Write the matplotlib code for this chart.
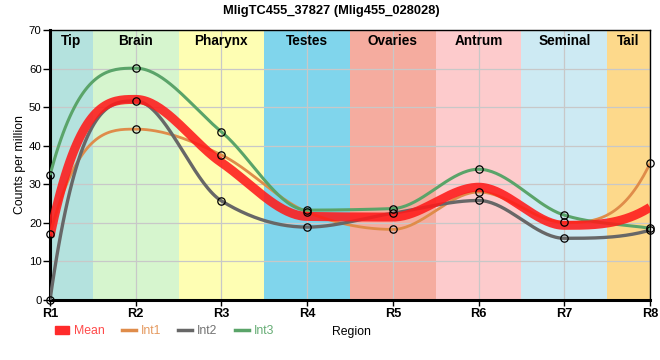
import numpy as np
import matplotlib
matplotlib.use("Agg")
import matplotlib.pyplot as plt
from matplotlib.lines import Line2D
from matplotlib.patches import Patch

plt.rcParams['font.family'] = ['Liberation Sans', 'DejaVu Sans']

# data
regions = ["R1", "R2", "R3", "R4", "R5", "R6", "R7", "R8"]
int1 = [17.1, 44.3, 37.6, 22.8, 18.3, 28.0, 20.1, 35.4]
int2 = [0.0, 51.6, 25.7, 18.9, 22.5, 25.8, 16.0, 18.1]
int3 = [32.4, 60.1, 43.6, 23.3, 23.7, 33.9, 22.0, 18.6]
mean = list(np.mean([int1, int2, int3], axis=0))

band_names = ["Tip", "Brain", "Pharynx", "Testes", "Ovaries", "Antrum", "Seminal", "Tail"]
band_colors = ["#b4e2de", "#d6f5ce", "#fefeb3", "#80d5ec", "#f5ac9f", "#fdcbcc", "#cdeaf3", "#fdd98b"]


def smooth_curve(x, y, n=40):
    # monotone cubic hermite, ends bent harder like the original chart
    x = np.asarray(x, float)
    y = np.asarray(y, float)
    h = np.diff(x)
    s = np.diff(y) / h
    m = np.zeros(len(x))
    for i in range(1, len(x) - 1):
        p = (s[i - 1] * h[i] + s[i] * h[i - 1]) / (h[i - 1] + h[i])
        m[i] = (np.sign(s[i - 1]) + np.sign(s[i])) * min(abs(s[i - 1]), abs(s[i]), 0.5 * abs(p))
    m[0] = 3 * s[0] - m[1]
    m[-1] = 3 * s[-1] - m[-2]
    xs, ys = [], []
    for i in range(len(x) - 1):
        t = np.linspace(0, 1, n)
        h00 = 2 * t**3 - 3 * t**2 + 1
        h10 = t**3 - 2 * t**2 + t
        h01 = -2 * t**3 + 3 * t**2
        h11 = t**3 - t**2
        xs.append(x[i] + t * h[i])
        ys.append(h00 * y[i] + h10 * h[i] * m[i] + h01 * y[i + 1] + h11 * h[i] * m[i + 1])
    return np.concatenate(xs), np.concatenate(ys)


fig = plt.figure(figsize=(6.6, 3.6), dpi=100)
ax = fig.add_axes([50 / 660, 60 / 360, 600 / 660, 270 / 360])

xpos = np.arange(len(regions))
for i, (name, col) in enumerate(zip(band_names, band_colors)):
    lo = max(i - 0.5, 0)
    hi = min(i + 0.5, len(regions) - 1)
    ax.axvspan(lo, hi, color=col, lw=0, zorder=0)
    ax.text((lo + hi) / 2, 69.0, name, ha='center', va='top', fontsize=9.8,
            fontweight='bold', zorder=6)

ax.grid(True, color='#c8c8c8', lw=0.9, zorder=1)
ax.set_axisbelow(True)

series = [("Int1", int1, "#df8c4a", 2.0), ("Int2", int2, "#676767", 2.4), ("Int3", int3, "#5aa469", 2.2)]
for name, vals, col, lw in series:
    cx, cy = smooth_curve(xpos, vals)
    ax.plot(cx, cy, color=col, lw=lw, zorder=3, solid_capstyle='butt')

cx, cy = smooth_curve(xpos, mean)
ax.plot(cx, cy, color='#ff1a1a', lw=6.5, alpha=0.88, zorder=4, solid_capstyle='butt')

for name, vals, col, lw in series:
    ax.plot(xpos, vals, ls='none', marker='o', ms=5.3, mfc='none', mec='black', mew=0.9,
            zorder=7, clip_on=False)

ax.set_xlim(0, len(regions) - 1)
ax.set_ylim(0, 70)
ax.set_xticks(xpos)
ax.set_xticklabels(regions, fontsize=9.2, fontweight='bold')
ax.set_yticks(range(0, 71, 10))
ax.tick_params(axis='y', labelsize=8.2, length=5, width=1, pad=1)
ax.tick_params(axis='x', length=4, width=1, pad=2)
ax.set_ylabel("Counts per million", fontsize=8.8, labelpad=2)
for side in ['left', 'bottom']:
    ax.spines[side].set_linewidth(2.2)
for side in ['top', 'right']:
    ax.spines[side].set_linewidth(1.0)

fig.text(351 / 660, 1 - 332 / 360, "Region", ha='center', va='center', fontsize=8.8)
fig.suptitle("MligTC455_37827 (Mlig455_028028)", fontsize=9.3, fontweight='bold',
             x=331 / 660, y=1 - 11 / 360, va='center')

handles = [Patch(color='#ff2b2b', label='Mean'),
           Line2D([], [], color='#df8c4a', lw=2.5, label='Int1'),
           Line2D([], [], color='#676767', lw=2.5, label='Int2'),
           Line2D([], [], color='#5aa469', lw=2.5, label='Int3')]
leg = fig.legend(handles=handles, loc='center left', bbox_to_anchor=(55 / 660, 1 - 331 / 360),
                 ncol=4, frameon=False, fontsize=8.8, handlelength=1.15, handleheight=0.6,
                 handletextpad=0.4, columnspacing=1.4, borderpad=0, borderaxespad=0)
for txt, col in zip(leg.get_texts(), ['#ff4a4a', '#e59a60', '#737373', '#66ad75']):
    txt.set_color(col)

fig.savefig("out.png", dpi=100)
